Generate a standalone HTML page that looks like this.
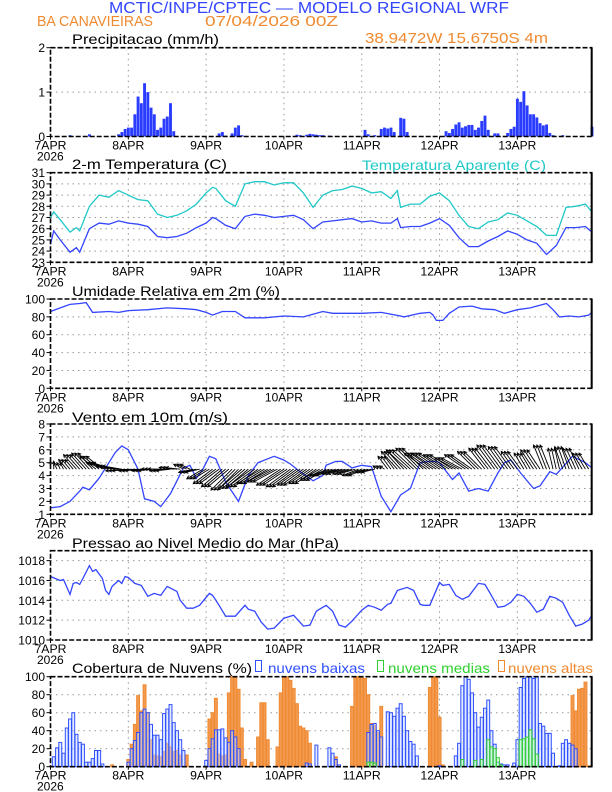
<!DOCTYPE html>
<html><head><meta charset="utf-8"><style>
html,body{margin:0;padding:0;background:#fff;}
svg{display:block;font-family:"Liberation Sans",sans-serif;}
</style></head><body>
<svg id="c" width="612" height="792" viewBox="0 0 612 792" xmlns="http://www.w3.org/2000/svg">
<text x="109" y="13" font-size="16" fill="#3345ff" textLength="400" lengthAdjust="spacingAndGlyphs">MCTIC/INPE/CPTEC — MODELO REGIONAL WRF</text>
<text x="37" y="26" font-size="15" fill="#f08a30" textLength="116" lengthAdjust="spacingAndGlyphs">BA CANAVIEIRAS</text>
<text x="205" y="26" font-size="15" fill="#f08a30" textLength="133" lengthAdjust="spacingAndGlyphs">07/04/2026 00Z</text>
<text x="365" y="43" font-size="15" fill="#f08a30" textLength="183" lengthAdjust="spacingAndGlyphs">38.9472W 15.6750S 4m</text>
<text x="72" y="44" font-size="14" fill="#000" textLength="147" lengthAdjust="spacingAndGlyphs">Precipitacao (mm/h)</text>
<text x="72" y="169" font-size="14" fill="#000" textLength="155" lengthAdjust="spacingAndGlyphs">2-m Temperatura (C)</text>
<text x="362" y="170" font-size="14" fill="#20c8c8" textLength="184" lengthAdjust="spacingAndGlyphs">Temperatura Aparente (C)</text>
<text x="72" y="296" font-size="14" fill="#000" textLength="208" lengthAdjust="spacingAndGlyphs">Umidade Relativa em 2m (%)</text>
<text x="72" y="422" font-size="14" fill="#000" textLength="156" lengthAdjust="spacingAndGlyphs">Vento em 10m (m/s)</text>
<text x="72" y="548" font-size="14" fill="#000" textLength="267" lengthAdjust="spacingAndGlyphs">Pressao ao Nivel Medio do Mar (hPa)</text>
<text x="72" y="673" font-size="14" fill="#000" textLength="180" lengthAdjust="spacingAndGlyphs">Cobertura de Nuvens (%)</text>
<rect x="255.5" y="660.5" width="6" height="11" fill="#fff" stroke="#3050ff"/>
<text x="268" y="673" font-size="14" fill="#3050ff" textLength="97" lengthAdjust="spacingAndGlyphs">nuvens baixas</text>
<rect x="377.5" y="660.5" width="6" height="11" fill="#fff" stroke="#30d030"/>
<text x="388" y="673" font-size="14" fill="#30d030" textLength="102" lengthAdjust="spacingAndGlyphs">nuvens medias</text>
<rect x="498.5" y="660.5" width="6" height="11" fill="#fff" stroke="#f08a30"/>
<text x="508" y="673" font-size="14" fill="#f08a30" textLength="85" lengthAdjust="spacingAndGlyphs">nuvens altas</text>
</svg>
<script>
// ---- data ----
const dayLabels=["7APR","8APR","9APR","10APR","11APR","12APR","13APR"];
const precipHours=[6,12,21,22,23,24,25,26,27,28,29,30,31,32,33,34,35,36,37,38,52,53,54,56,57,58,59,76,77,79,80,81,82,83,84,86,97,98,100,102,103,104,105,106,108,109,110,122,123,124,125,126,127,128,129,130,131,132,133,134,135,137,138,141,142,143,144,145,146,147,148,149,150,151,152,153,154,155,158,167];
const precipVals=[0.03,0.05,0.05,0.1,0.17,0.2,0.2,0.5,0.9,0.75,1.2,1.0,0.65,0.5,0.15,0.2,0.4,0.45,0.75,0.12,0.07,0.1,0.02,0.07,0.2,0.25,0.03,0.04,0.03,0.04,0.06,0.05,0.04,0.03,0.03,0.02,0.15,0.05,0.03,0.17,0.2,0.18,0.2,0.1,0.42,0.4,0.1,0.12,0.08,0.17,0.27,0.32,0.2,0.23,0.26,0.26,0.15,0.2,0.35,0.47,0.15,0.07,0.07,0.08,0.17,0.22,0.85,0.78,1.02,0.7,0.5,0.5,0.43,0.3,0.25,0.27,0.08,0.03,0.03,0.22];
const tempHours=[0,1,3,6,8,9,12,15,18,21,24,27,30,33,36,39,42,45,48,50,51,54,57,60,63,66,69,72,75,78,81,84,87,90,93,96,99,102,105,107,108,111,114,117,120,123,126,129,132,135,138,141,144,147,150,153,156,159,162,165,167];
const temp2m=[24.6,25.8,25.0,23.9,24.3,23.9,26.0,26.5,26.4,26.7,26.5,26.4,26.2,25.3,25.2,25.3,25.6,26.1,26.5,27.0,26.9,26.3,26.0,27.1,27.3,27.2,27.0,27.1,27.2,26.8,26.0,26.6,26.7,26.8,26.9,26.6,26.7,26.5,26.5,26.9,26.1,26.2,26.2,26.5,26.9,26.3,25.2,24.4,24.4,24.9,25.3,25.8,25.5,25.0,24.7,23.7,24.5,26.1,26.1,26.2,25.7];
const tempApparent=[27.0,27.5,26.8,25.7,26.1,25.8,28.0,29.0,28.8,29.4,29.0,28.6,28.5,27.3,27.0,27.2,27.6,28.2,29.2,29.7,29.6,28.5,28.0,30.0,30.2,30.2,29.9,30.1,30.1,29.2,27.9,29.0,29.4,29.5,29.8,29.6,29.2,29.3,28.7,29.4,27.9,28.2,28.2,28.9,29.2,28.5,27.2,26.2,26.0,26.6,26.8,27.4,27.2,26.7,26.2,25.4,25.4,27.9,28.0,28.2,27.5];
const rhHours=[0,3,6,9,11,13,18,21,24,30,36,42,45,48,50,53,57,60,66,72,78,84,87,96,102,108,109,114,117,118,119,121,123,126,130,133,137,140,144,148,153,155,157,160,163,166,167];
const rhVals=[86,90,94,95,96,85,86,85,87,88,90,89,88,85,82,86,86,79,79,81,80,86,84,84,85,81,80,84,85,82,76,76,84,91,92,89,88,84,88,90,95,88,80,81,80,82,85];
const windHours=[0,3,6,9,10,12,15,18,20,22,24,27,29,32,34,37,41,43,45,47,49,51,54,58,61,64,69,72,74,77,81,84,85,88,90,93,96,99,102,105,108,111,114,117,119,120,124,126,129,132,135,138,140,142,145,149,151,154,156,161,165,167];
const windSpeed=[1.5,1.6,2.0,2.8,3.1,2.9,3.8,5.0,5.8,6.3,6.0,4.5,2.2,2.0,1.6,2.6,4.6,4.8,3.8,4.5,5.5,5.3,3.5,2.0,4.0,5.0,5.5,5.2,4.9,4.3,3.6,4.0,4.8,5.1,5.1,4.6,4.8,4.7,2.4,1.2,2.5,3.0,5.0,5.1,5.1,5.0,3.7,4.2,2.8,3.0,2.8,4.2,5.0,5.2,4.2,3.0,3.2,4.3,4.1,5.5,5.0,4.6];
const arrowHours=[0,3,6,9,12,15,18,21,24,27,30,33,36,39,42,45,48,51,54,57,60,63,66,69,72,75,78,81,84,87,90,93,96,99,102,105,108,111,114,117,120,123,126,129,132,135,138,141,144,147,150,153,156,159,162,165];
const windU=[0,-0.2,-0.5,-0.8,-0.9,-1.0,-1.2,-1.2,-1.2,-1.0,-0.8,-0.8,-0.9,-0.9,-0.6,-0.9,-1.0,-1.2,-1.3,-1.3,-1.4,-1.5,-1.5,-1.5,-1.5,-1.5,-1.4,-1.3,-1.2,-1.2,-1.1,-1.0,-1.0,-0.8,-0.3,-0.6,-1.0,-1.3,-1.3,-1.4,-1.5,-1.4,-1.3,-1.3,-1.1,-1.0,-1.1,-1.0,-0.8,-0.6,-0.8,-0.6,-0.3,-0.5,-0.6,-0.6];
const windV=[0.5,0.4,0.6,0.9,1.0,0.8,0.4,0.2,-0.1,-0.1,-0.1,0,-0.1,0.1,0.3,-0.2,-0.6,-0.9,-1.1,-1.3,-1.2,-1.1,-0.9,-0.8,-1.0,-1.1,-1.0,-0.9,-0.7,-0.4,-0.3,-0.3,-0.4,-0.2,0.2,0.8,1.1,1.2,1.3,1.0,1.0,0.9,0.7,0.9,1.1,1.3,1.5,1.4,1.1,1.0,1.2,1.5,1.3,1.4,1.3,1.0];
const presHours=[0,3,4,6,7,8,9,10,12,13,14,16,17,18,19,21,22,23,24,26,28,30,32,34,36,39,40,42,44,46,49,50,52,54,57,60,61,63,65,67,69,72,75,78,80,82,85,87,89,91,93,96,98,100,102,104,105,107,110,112,114,115,117,120,121,123,125,127,129,132,134,136,138,140,142,144,146,148,150,152,154,156,158,160,162,164,166,167];
const presVals=[1016.4,1016.0,1016.1,1014.6,1015.7,1015.8,1015.6,1016.2,1017.5,1016.9,1017.1,1016.2,1015.0,1014.6,1015.4,1016.0,1015.7,1016.4,1016.3,1015.7,1015.5,1014.4,1014.7,1014.5,1015.4,1014.9,1014.0,1013.2,1013.2,1013.5,1014.7,1014.5,1013.5,1012.4,1012.4,1013.5,1013.1,1012.9,1011.8,1011.1,1011.2,1012.2,1012.5,1011.4,1011.5,1012.9,1013.5,1012.9,1011.5,1011.3,1011.9,1013.0,1013.5,1013.3,1013.0,1013.6,1013.7,1015.0,1015.3,1015.0,1013.6,1013.5,1013.5,1015.8,1015.5,1015.6,1014.5,1014.1,1014.4,1015.7,1015.6,1014.5,1013.3,1013.4,1013.8,1014.6,1014.4,1013.7,1012.8,1013.1,1014.4,1014.2,1013.8,1012.5,1011.4,1011.6,1012.0,1012.5];
const lowHours=[1,2,3,4,5,6,7,8,9,10,11,12,13,14,15,16,24,25,26,27,28,29,30,31,32,33,34,35,36,37,38,39,40,41,48,49,50,51,52,53,54,55,56,57,58,79,80,82,86,87,88,89,98,99,100,101,102,104,105,106,107,108,109,110,111,112,113,120,125,126,127,128,129,130,131,132,133,134,135,136,137,138,139,140,141,143,144,145,146,147,148,149,150,151,152,153,154,155,157,158,159,160,161,162];
const lowVals=[11,21,27,15,43,53,60,36,27,25,5,5,9,18,18,3,5,20,29,38,60,64,60,47,35,35,30,59,64,69,49,40,30,18,7,20,31,41,41,42,32,27,40,33,20,4,3,24,21,15,8,2,38,47,48,40,33,61,60,56,65,70,56,40,28,25,12,1,12,26,90,100,97,82,60,44,55,65,74,40,25,5,3,2,2,4,30,88,98,100,100,98,100,48,45,37,37,15,1,26,30,26,24,20];
const midHours=[98,99,100,127,131,133,135,136,137,138,139,145,146,147,148,149,150];
const midVals=[5,5,4,8,7,8,30,22,20,10,2,30,31,33,41,31,14];
const highHours=[19,24,25,26,27,28,29,30,31,32,33,34,35,36,37,38,39,40,42,49,50,51,52,53,54,55,56,57,58,59,60,62,64,65,66,67,70,71,72,73,74,75,76,77,78,79,80,88,93,94,95,96,97,98,99,100,101,102,117,118,119,120,121,161,162,163,164,165,166];
const highVals=[2,8,25,47,79,62,91,60,30,13,12,11,17,26,22,17,18,13,13,53,60,76,14,12,13,82,100,100,86,43,8,5,33,71,71,30,22,82,100,100,96,87,70,45,43,40,26,11,67,100,100,100,98,80,48,46,38,67,88,100,100,55,2,79,62,86,87,94,1];

// ---- drawing ----
const NS="http://www.w3.org/2000/svg";
const svg=document.getElementById("c");
const X0=50.5, HPX=3.242;
function xh(h){return X0+h*HPX;}
function mk(tag,attrs,parent){const e=document.createElementNS(NS,tag);for(const k in attrs)e.setAttribute(k,attrs[k]);(parent||svg).appendChild(e);return e;}
function panel(name,top,bot,vmin,vmax,ticks){
  const yv=v=>bot-(v-vmin)/(vmax-vmin)*(bot-top);
  const g=mk("g",{});
  
  
  ticks.forEach(t=>{
    const y=yv(t);
    if(t>vmin&&t<vmax){const l=mk("line",{x1:X0,x2:591.7,y1:y,y2:y,stroke:"#999","stroke-width":1,"stroke-dasharray":"1.5,4"},g);
      
      }
    mk("line",{x1:X0-4,x2:X0,y1:y,y2:y,stroke:"#000","stroke-width":1},g);
    const tx=mk("text",{x:45,y:y+4.5,"font-size":12,"text-anchor":"end",fill:"#000"},g);
    tx.textContent=t;
    
    
  });
  dayLabels.forEach((d,i)=>{
    const x=xh(i*24);
    if(i>0){const l=mk("line",{x1:x,x2:x,y1:top,y2:bot,stroke:"#999","stroke-width":1,"stroke-dasharray":"1.5,4"},g);
      
      }
    mk("line",{x1:x,x2:x,y1:bot,y2:bot+3,stroke:"#000"},g);
    const tx=mk("text",{x:x,y:bot+13,"font-size":12,"text-anchor":"middle",fill:"#000",textLength:d.length>4?38:32,lengthAdjust:"spacingAndGlyphs"},g);
    tx.textContent=d;
    
    
  });
  const yr=mk("text",{x:37,y:bot+24,"font-size":12,fill:"#000"},g);
  yr.textContent="2026";
  
  
  return {g,yv,top,bot};
}
function frame(p){
  mk("rect",{x:X0,y:p.top,width:591.7-X0,height:p.bot-p.top,fill:"none",stroke:"#000","stroke-width":1.6,"stroke-dasharray":"5,2"},p.g);
  mk("line",{x1:591.7,x2:591.7,y1:p.top,y2:p.bot,stroke:"#000","stroke-width":2},p.g);
}
function line(p,hs,vs,color,name){
  const pts=hs.map((h,i)=>xh(h).toFixed(1)+","+p.yv(vs[i]).toFixed(1)).join(" ");
  const l=mk("polyline",{points:pts,fill:"none",stroke:color,"stroke-width":1.3},p.g);
  
  
}
// Precip
const p1=panel("precip",47.7,136.5,0,2,[0,1,2]);
precipHours.forEach((h,i)=>{
  const y=p1.yv(precipVals[i]);
  const r=mk("rect",{x:xh(h)-1.4,y:y,width:2.9,height:136.5-y,fill:"#2a3cff"},p1.g);
  
  
});
frame(p1);
// Temperature
const p2=panel("temperature",172.7,262.3,23,31,[23,24,25,26,27,28,29,30,31]);
line(p2,tempHours,tempApparent,"#20c8c8","apparent-temp-line");
line(p2,tempHours,temp2m,"#3345ff","temp-2m-line");
frame(p2);
// RH
const p3=panel("humidity",299,388.3,0,100,[0,20,40,60,80,100]);
line(p3,rhHours,rhVals,"#3345ff","humidity-line");
frame(p3);
// Wind
const p4=panel("wind",424,514.3,1,8,[1,2,3,4,5,6,7,8]);
line(p4,windHours,windSpeed,"#3345ff","wind-speed-line");
const base=p4.yv(4.5), K=(p4.bot-p4.top)/7;
arrowHours.forEach((h,i)=>{
  [-1,0,1].forEach(off=>{
    const x1=xh(h+off);
    if(x1<X0||x1>591.7) return;
    const dx=windU[i]*K*1.25, dy=-windV[i]*K*1.25;
    const x2=x1+dx, y2=base+dy, L=Math.hypot(dx,dy)||1, ux=dx/L, uy=dy/L;
    const a=mk("path",{d:`M${x1},${base}L${x2},${y2}M${x2-ux*3-uy*1.6},${y2-uy*3+ux*1.6}L${x2},${y2}L${x2-ux*3+uy*1.6},${y2-uy*3-ux*1.6}`,stroke:"#000","stroke-width":0.9,fill:"none"},p4.g);
    
    
  });
});
frame(p4);
// Pressure
const p5=panel("pressure",550.7,640,1010,1019,[1010,1012,1014,1016,1018]);
line(p5,presHours,presVals,"#3345ff","pressure-line");
frame(p5);
// Clouds
const p6=panel("clouds",676.7,766.7,0,100,[0,20,40,60,80,100]);
function bars(hs,vs,fill,stroke,name){
  hs.forEach((h,i)=>{
    const y=p6.yv(vs[i]);
    const r=mk("rect",{x:xh(h)-1.4,y:y,width:2.9,height:766.7-y,fill:fill,stroke:stroke,"stroke-width":1},p6.g);
    
    
  });
}
bars(highHours,highVals,"#f29a50","#f08a30","high-cloud-bar");
bars(lowHours,lowVals,"rgba(200,215,255,0.5)","#3050ff","low-cloud-bar");
bars(midHours,midVals,"rgba(180,255,180,0.4)","#30d030","mid-cloud-bar");
frame(p6);
</script>
</body></html>
